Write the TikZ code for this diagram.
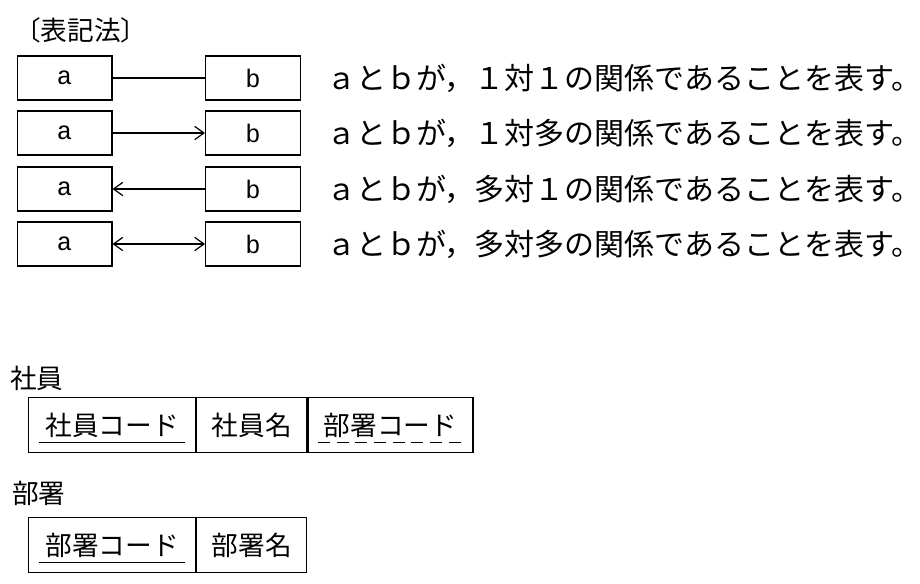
\documentclass[tikz,border=0pt]{standalone}
\usepackage{fontspec}
\setmainfont{Noto Sans CJK JP}
\newfontfamily\latn{Liberation Mono}
\usetikzlibrary{arrows.meta}
\tikzset{
  ent/.style={draw,line width=1pt,minimum width=71pt,minimum height=33pt,inner sep=0pt,font=\latn\fontsize{19}{19}\selectfont},
  rel/.style={line width=0.9pt,-{Straight Barb[length=7pt,width=10pt]}},
  cell/.style={draw,line width=1pt,minimum height=41pt,inner sep=0pt,anchor=north west,font=\fontsize{20}{20}\selectfont},
  lbl/.style={anchor=west,inner sep=0pt,font=\fontsize{20}{20}\selectfont},
}
\begin{document}
\begin{tikzpicture}[x=0.75pt,y=0.75pt,yscale=-1,xscale=1]
\useasboundingbox (0,0) rectangle (920,584);

% legend
\node [lbl] (title) at (14,30) {〔表記法〕};
\foreach \i/\y/\t in {1/78/{１対１},2/133/{１対多},3/189/{多対１},4/244/{多対多}}{
  \node [ent] (a\i) at (64.5,\y) {a};
  \node [ent] (b\i) at (253,\y) {b};
  \node [lbl,font=\fontsize{22.5}{22.5}\selectfont] (t\i) at (326,\y) {ａとｂが，\t の関係であることを表す。};
}
\draw [line width=0.9pt] (a1) -- (b1);
\draw [rel] (a2) -- (b2);
\draw [rel] (b3) -- (a3);
\draw [rel,{Straight Barb[length=7pt,width=10pt]}-{Straight Barb[length=7pt,width=10pt]}] (a4) -- (b4);

% tables
\node [lbl] (emp) at (10,378) {社員};
\node [cell,minimum width=125pt] (e1) at (28,397) {社員コード};
\node [cell,minimum width=82.5pt] (e2) at (e1.north east) {社員名};
\node [cell,minimum width=123.75pt] (e3) at (e2.north east) {部署コード};
\draw [line width=0.9pt] ([xshift=8pt,yshift=-8pt]e1.south west) -- ([xshift=-8pt,yshift=-8pt]e1.south east);
\draw [line width=0.9pt,dash pattern=on 9pt off 5pt] ([xshift=8pt,yshift=-8pt]e3.south west) -- ([xshift=-8pt,yshift=-8pt]e3.south east);

\node [lbl] (dep) at (12,493) {部署};
\node [cell,minimum width=125pt] (d1) at (28,517) {部署コード};
\node [cell,minimum width=82.5pt] (d2) at (d1.north east) {部署名};
\draw [line width=0.9pt] ([xshift=8pt,yshift=-8pt]d1.south west) -- ([xshift=-8pt,yshift=-8pt]d1.south east);
\end{tikzpicture}
\end{document}
